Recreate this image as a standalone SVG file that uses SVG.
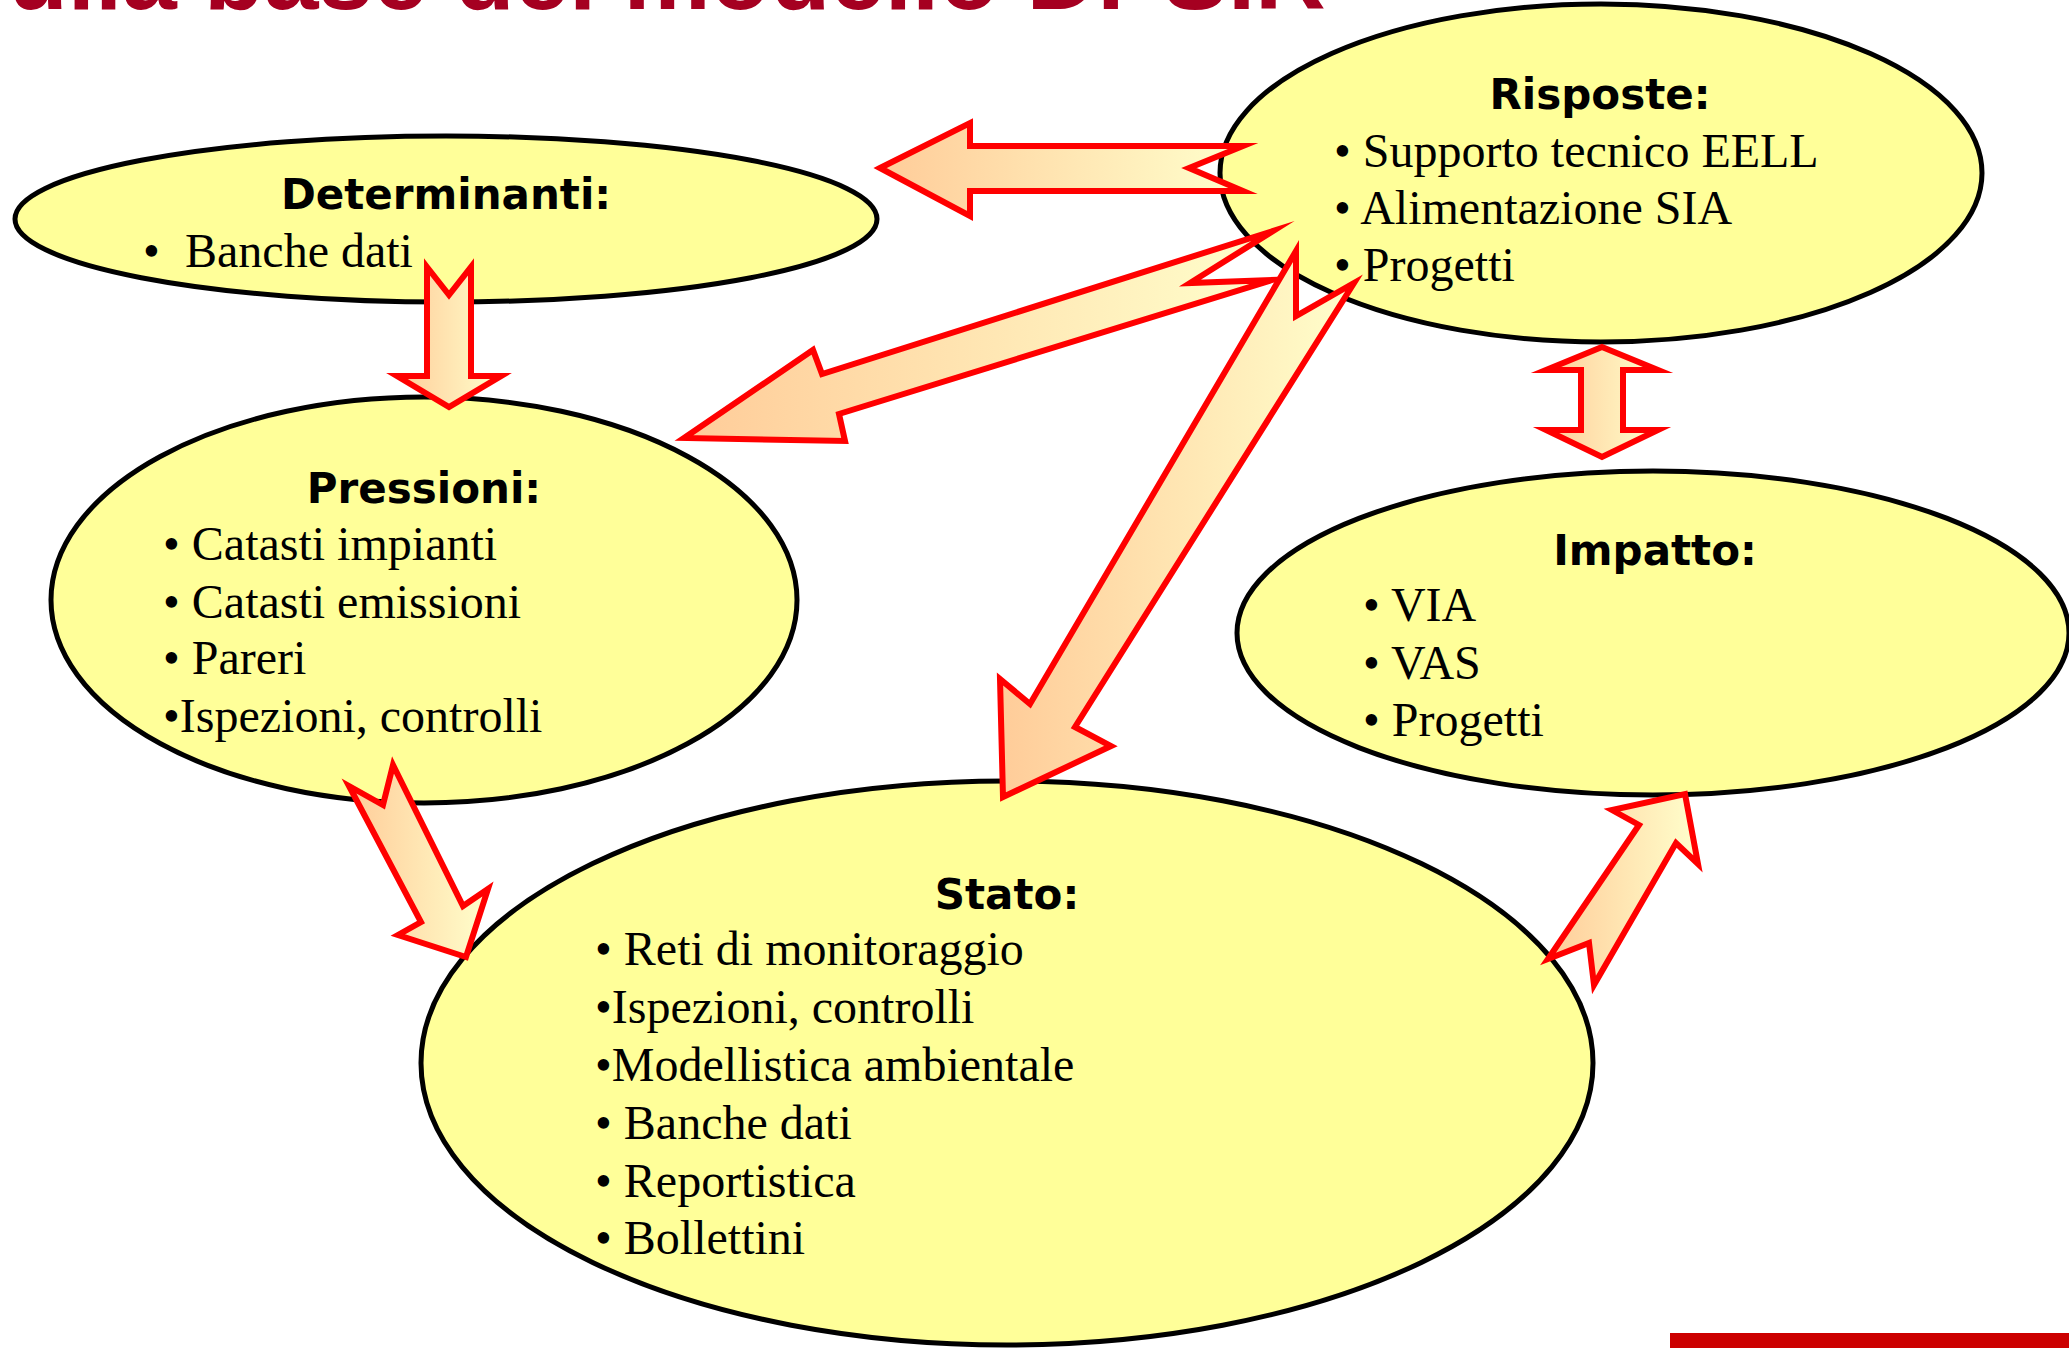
<svg xmlns="http://www.w3.org/2000/svg" width="2069" height="1348" viewBox="0 0 2069 1348">
<defs>
<style>
.node ellipse{fill:#FFFF99;stroke:#000;stroke-width:5}
.h{font-family:"DejaVu Sans",Verdana,sans-serif;font-weight:bold;font-size:42px;fill:#000;text-anchor:middle}
.t{font-family:"Liberation Serif","Times New Roman",serif;font-size:48px;fill:#000}
.arr{stroke:#FF0000;stroke-width:6;stroke-linejoin:miter;stroke-miterlimit:10;fill:url(#g)}
.title{font-family:"Liberation Sans",Arial,sans-serif;font-weight:bold;font-size:98px;fill:#A50021}
</style>
<linearGradient id="g" x1="0" y1="0" x2="1" y2="0">
<stop offset="0" stop-color="#FFCC99"/>
<stop offset="1" stop-color="#FFFFCC"/>
</linearGradient>
</defs>
<rect width="2069" height="1348" fill="#FFFFFF"/>
<text class="title" x="8" y="9">ulla base del modello DPSIR</text>
<rect x="1670" y="1333" width="399" height="15" fill="#CC0000"/>

<g id="determinanti" class="node">
<ellipse cx="446" cy="219" rx="431" ry="83"/>
<text class="h" x="446" y="209">Determinanti:</text>
<text class="t" y="267"><tspan x="143">•</tspan><tspan x="185">Banche dati</tspan></text>
</g>

<g id="risposte" class="node">
<ellipse cx="1601" cy="173" rx="381" ry="169"/>
<text class="h" x="1600" y="109">Risposte:</text>
<text class="t" x="1334" y="167">• Supporto tecnico EELL</text>
<text class="t" x="1334" y="224">• Alimentazione SIA</text>
<text class="t" x="1334" y="281">• Progetti</text>
</g>

<g id="pressioni" class="node">
<ellipse cx="424" cy="600" rx="373" ry="203"/>
<text class="h" x="424" y="503">Pressioni:</text>
<text class="t" x="163" y="560">• Catasti impianti</text>
<text class="t" x="163" y="618">• Catasti emissioni</text>
<text class="t" x="163" y="674">• Pareri</text>
<text class="t" x="163" y="732">•Ispezioni, controlli</text>
</g>

<g id="impatto" class="node">
<ellipse cx="1653" cy="633" rx="416" ry="162"/>
<text class="h" x="1655" y="565">Impatto:</text>
<text class="t" x="1363" y="621">• VIA</text>
<text class="t" x="1363" y="679">• VAS</text>
<text class="t" x="1363" y="736">• Progetti</text>
</g>

<g id="stato" class="node">
<ellipse cx="1007" cy="1063" rx="586" ry="282"/>
<text class="h" x="1007" y="909">Stato:</text>
<text class="t" x="595" y="965">• Reti di monitoraggio</text>
<text class="t" x="595" y="1023">•Ispezioni, controlli</text>
<text class="t" x="595" y="1081">•Modellistica ambientale</text>
<text class="t" x="595" y="1139">• Banche dati</text>
<text class="t" x="595" y="1197">• Reportistica</text>
<text class="t" x="595" y="1254">• Bollettini</text>
</g>

<g id="connectors">
<path class="arr" d="M427,267 L449,295 L471,267 L471,376 L501,376 L449,407 L397,376 L427,376 Z"/>
<path class="arr" d="M880,168 L970,123 L970,146 L1243,146 L1189,168 L1243,191 L970,191 L970,216 Z"/>
<path class="arr" d="M684,438 L813,350 L822,374 L1273,231 L1190,283 L1272,280 L839,414 L845,441 Z"/>
<path class="arr" d="M1296,251 L1296,316 L1354,283 L1075,727 L1111,746 L1003,797 L1000,679 L1030,704 Z"/>
<path class="arr" d="M349,786 L421,922 L398,935 L466,957 L488,889 L463,906 L393,765 L383,805 Z"/>
<path class="arr" d="M1548,959 L1639,825 L1612,810 L1685,794 L1698,864 L1676,843 L1594,985 L1589,943 Z"/>
<path class="arr" d="M1602,347 L1658,370 L1623,370 L1623,430 L1658,430 L1602,457 L1546,430 L1581,430 L1581,370 L1546,370 Z"/>
</g>
</svg>
